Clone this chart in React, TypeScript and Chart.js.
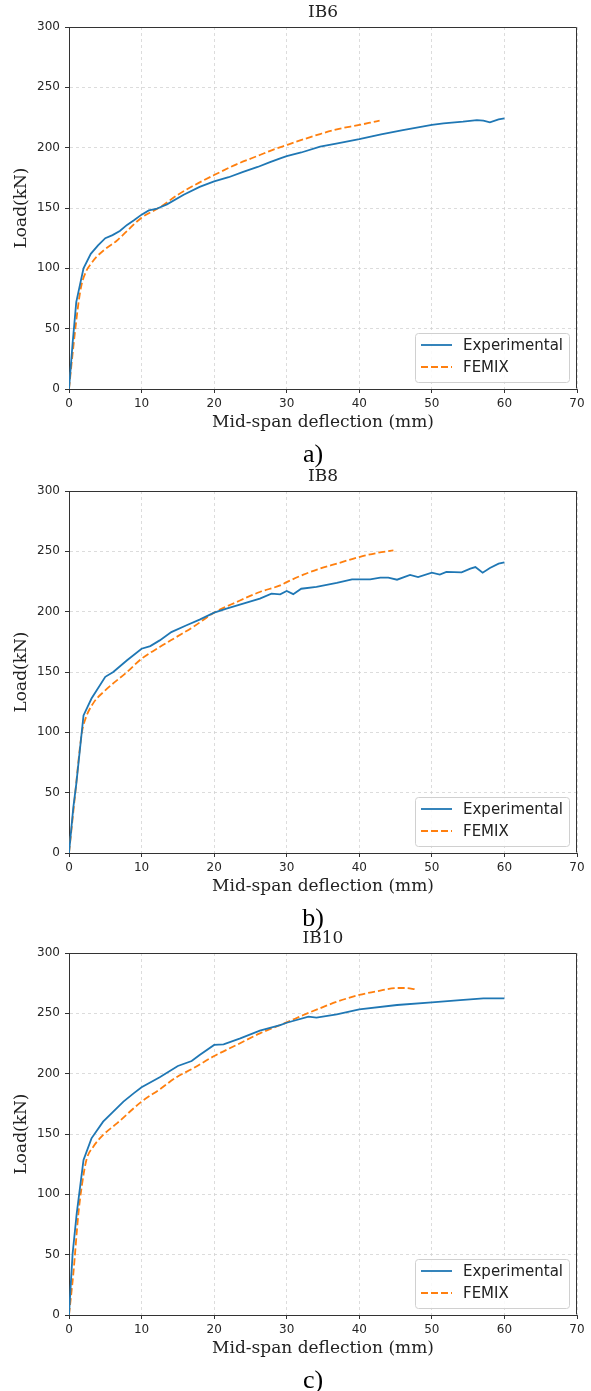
import React, { useEffect, useRef } from "react";
import { Chart, registerables } from "chart.js";

Chart.register(...registerables);

// ---------- data ----------
const xTicks = [0, 10, 20, 30, 40, 50, 60, 70];
const yTicks = [0, 50, 100, 150, 200, 250, 300];
const seriesNames = ["Experimental", "FEMIX"];
const panelTitles = ["IB6", "IB8", "IB10"];
const panelCaptions = ["a)", "b)", "c)"];
const xAxisLabel = "Mid-span deflection (mm)";
const yAxisLabel = "Load(kN)";

const ib6ExpX = [0, 0.5, 1, 2, 3, 4, 5, 6, 7, 8, 9, 10, 11, 12, 13.5, 15.8, 18, 20, 22, 24, 26, 27.7, 29.3, 30, 32, 34.6, 37, 40, 43, 46, 50, 51.6, 54.3, 56.2, 57.1, 58, 59.2, 60];
const ib6ExpY = [0, 38, 72, 100, 112, 119, 125, 127.5, 131, 136, 140, 144.5, 148, 149.2, 153, 161, 167.5, 172, 175.5, 180, 184, 188, 191.5, 193, 196, 200.8, 203.5, 207, 211, 214.6, 218.8, 220.2, 221.5, 222.9, 222.4, 221, 223.5, 224.3];
const ib6FemX = [0, 0.6, 1.3, 1.75, 2.4, 3, 3.8, 5, 6.5, 8, 10, 12.5, 15, 17, 20, 23, 26.3, 28, 30, 32.3, 34.6, 36.9, 40, 41.5, 42.8];
const ib6FemY = [0, 35, 71, 87, 98, 103.5, 109.5, 116, 122.5, 131, 142, 150.5, 161, 168, 177.3, 186, 193.9, 198, 202.2, 206.9, 211.3, 215.2, 218.8, 220.7, 222.4];

const ib8ExpX = [0, 0.6, 1, 2, 3.1, 5, 6.1, 8, 10, 11.2, 12.5, 14.1, 16.2, 18, 20, 21.7, 24, 26.3, 27.9, 29.1, 30, 30.9, 32, 34.1, 36.9, 39, 41.5, 42.9, 44, 45.2, 47, 48.1, 50, 51.1, 52, 54.1, 55.3, 56, 57, 58, 59.2, 60];
const ib8ExpY = [0, 38, 57, 114, 128, 146, 150, 159.7, 169.3, 171.5, 176.2, 183.1, 188.7, 193.4, 199.2, 202.5, 206.6, 210.8, 214.9, 214.4, 217.1, 214.5, 219, 220.5, 223.8, 226.8, 226.8, 228.2, 228.2, 226.5, 230.4, 228.7, 232.3, 230.7, 232.9, 232.6, 235.7, 237, 232.3, 236.2, 239.8, 240.9];
const ib8FemX = [0, 0.8, 1.75, 2.2, 3.3, 5, 8, 10, 12.5, 14.8, 17.1, 20, 23.1, 26.3, 29.1, 30, 32.3, 34.6, 36.9, 40, 42.4, 44.7];
const ib8FemY = [0, 46, 99, 110, 123.8, 134.8, 150, 161, 170.7, 179, 187.3, 199.2, 208, 216.3, 221.8, 224.5, 230.7, 235.7, 239.8, 245.3, 248.6, 250.8];

const ib10ExpX = [0, 0.25, 0.5, 1.06, 2, 3.1, 4.7, 6.1, 7.5, 8.9, 10, 12.5, 15, 16.9, 18, 20, 21.3, 23.6, 26.3, 29.1, 30, 33, 34.1, 36.9, 40, 45.2, 50, 53.9, 57.1, 60];
const ib10ExpY = [0, 26, 51, 84, 128.5, 146.4, 160.2, 168.5, 176.8, 183.7, 188.7, 197, 206.4, 210.5, 215.5, 223.8, 224.3, 229.3, 235.6, 240.3, 242.2, 247.2, 246.4, 249.2, 253.3, 256.9, 259.1, 261, 262.4, 262.4];
const ib10FemX = [0, 0.6, 1.3, 1.75, 2.4, 3.35, 4.7, 6.6, 10, 12.5, 14.8, 17.1, 20, 23.1, 26.3, 29.1, 30, 32.3, 34.6, 36.9, 40, 42.9, 45.2, 46.5, 47.7];
const ib10FemY = [0, 34.5, 84.3, 106.4, 128.5, 139.5, 149.2, 158.8, 176.8, 187, 197, 204.4, 214.6, 223.8, 233.4, 240.3, 242.5, 248.6, 254.2, 259.6, 265.2, 268.8, 271, 271, 269.9];

const panelSeries = [
  [ib6ExpX, ib6ExpY, ib6FemX, ib6FemY],
  [ib8ExpX, ib8ExpY, ib8FemX, ib8FemY],
  [ib10ExpX, ib10ExpY, ib10FemX, ib10FemY],
];

// ---------- styles ----------
const BLUE = "#1f77b4";
const ORANGE = "#ff7f0e";
const SANS = "'DejaVu Sans', sans-serif";
const SERIF = "'DejaVu Serif', serif";
const CAPTION_FONT = "'Liberation Serif', 'Times New Roman', serif";

const W = 591;
const PAGE_H = 1391;
const panelTops = [0, 464, 926];
const panelHeights = [470, 470, 465];

const toPoints = (xs: number[], ys: number[]) => xs.map((x, i) => ({ x, y: ys[i] }));

const decorPlugin = {
  id: "decor",
  afterDraw(chart: any, _args: any, opts: any) {
    const { ctx, chartArea: a } = chart;
    ctx.save();
    // full frame (top / right spines)
    ctx.strokeStyle = "#333";
    ctx.lineWidth = 1;
    ctx.setLineDash([]);
    const l = Math.round(a.left) + 0.5;
    const r = Math.round(a.right) - 0.5;
    const t = Math.round(a.top) + 0.5;
    const b = Math.round(a.bottom) - 0.5;
    ctx.beginPath();
    ctx.moveTo(l, t);
    ctx.lineTo(r, t);
    ctx.lineTo(r, b);
    ctx.stroke();

    // title
    ctx.fillStyle = "#222";
    ctx.font = `17px ${SERIF}`;
    ctx.textAlign = "center";
    ctx.textBaseline = "middle";
    ctx.fillText(opts.title, (a.left + a.right) / 2, 13);

    // caption
    ctx.font = `26px ${CAPTION_FONT}`;
    ctx.fillStyle = "#000";
    ctx.fillText(opts.caption, 313, 455);

    // legend
    const bx = a.right - 162;
    const by = a.bottom - 56;
    const bw = 154;
    const bh = 49;
    ctx.fillStyle = "rgba(255,255,255,0.85)";
    ctx.strokeStyle = "#d0d0d0";
    ctx.lineWidth = 1;
    ctx.beginPath();
    if (ctx.roundRect) ctx.roundRect(bx + 0.5, by + 0.5, bw, bh, 3);
    else ctx.rect(bx + 0.5, by + 0.5, bw, bh);
    ctx.fill();
    ctx.stroke();
    const rows = [by + 12, by + 34];
    chart.data.datasets.forEach((ds: any, i: number) => {
      const y = rows[i];
      ctx.strokeStyle = ds.borderColor;
      ctx.lineWidth = ds.borderWidth;
      ctx.setLineDash(ds.borderDash || []);
      ctx.beginPath();
      ctx.moveTo(bx + 6, y);
      ctx.lineTo(bx + 37, y);
      ctx.stroke();
      ctx.setLineDash([]);
      ctx.fillStyle = "#222";
      ctx.font = `15px ${SANS}`;
      ctx.textAlign = "left";
      ctx.textBaseline = "middle";
      ctx.fillText(ds.label, bx + 48, y + 1);
    });
    ctx.restore();
  },
};

function Panel({ idx }: { idx: number }) {
  const ref = useRef<HTMLCanvasElement | null>(null);
  const H = panelHeights[idx];
  useEffect(() => {
    const [ex, ey, fx, fy] = panelSeries[idx];
    const chart = new Chart(ref.current as HTMLCanvasElement, {
      type: "line",
      data: {
        datasets: [
          {
            label: seriesNames[0],
            data: toPoints(ex, ey),
            borderColor: BLUE,
            backgroundColor: BLUE,
            borderWidth: 1.8,
            pointRadius: 0,
            tension: 0,
            fill: false,
          },
          {
            label: seriesNames[1],
            data: toPoints(fx, fy),
            borderColor: ORANGE,
            backgroundColor: ORANGE,
            borderWidth: 1.8,
            borderDash: [7, 3],
            pointRadius: 0,
            cubicInterpolationMode: "monotone",
            fill: false,
          },
        ],
      },
      options: {
        responsive: false,
        animation: false,
        devicePixelRatio: 1,
        layout: { padding: { left: 0, right: 14, top: 27, bottom: H - 389 - 45 } },
        plugins: {
          legend: { display: false },
          title: { display: false },
          tooltip: { enabled: false },
          decor: { title: panelTitles[idx], caption: panelCaptions[idx] },
        } as any,
        scales: {
          x: {
            type: "linear",
            min: xTicks[0],
            max: xTicks[xTicks.length - 1],
            afterBuildTicks: (s: any) => {
              s.ticks = xTicks.map((v) => ({ value: v }));
            },
            afterFit: (s: any) => {
              s.height = 45;
            },
            ticks: {
              autoSkip: false,
              maxRotation: 0,
              padding: 4,
              color: "#262626",
              font: { family: SANS, size: 12 },
            },
            grid: {
              color: "#d4d4d4",
              lineWidth: 0.8,
              tickLength: 4,
              tickColor: "#333",
              tickWidth: 1,
            },
            border: { color: "#333", width: 1, dash: [3, 3] },
            title: {
              display: true,
              text: xAxisLabel,
              color: "#222",
              font: { family: SERIF, size: 17 },
              padding: { top: 0, bottom: 1 },
            },
          },
          y: {
            type: "linear",
            min: yTicks[0],
            max: yTicks[yTicks.length - 1],
            afterBuildTicks: (s: any) => {
              s.ticks = yTicks.map((v) => ({ value: v }));
            },
            afterFit: (s: any) => {
              s.width = 69;
            },
            ticks: {
              autoSkip: false,
              padding: 5,
              color: "#262626",
              font: { family: SANS, size: 12 },
            },
            grid: {
              color: "#d4d4d4",
              lineWidth: 0.8,
              tickLength: 4,
              tickColor: "#333",
              tickWidth: 1,
            },
            border: { color: "#333", width: 1, dash: [3, 3] },
            title: {
              display: true,
              text: yAxisLabel,
              color: "#222",
              font: { family: SERIF, size: 17 },
              padding: { top: 11, bottom: 0 },
            },
          },
        },
      } as any,
      plugins: [decorPlugin as any],
    });
    return () => chart.destroy();
  }, [idx]);
  return (
    <canvas
      ref={ref}
      width={W}
      height={H}
      style={{ position: "absolute", left: 0, top: panelTops[idx], width: W, height: H }}
    />
  );
}

export default function App() {
  return (
    <div
      style={{
        position: "absolute",
        left: 0,
        top: 0,
        width: W,
        height: PAGE_H,
        overflow: "hidden",
        background: "#fff",
      }}
    >
      {panelTitles.map((_, i) => (
        <Panel key={i} idx={i} />
      ))}
    </div>
  );
}
